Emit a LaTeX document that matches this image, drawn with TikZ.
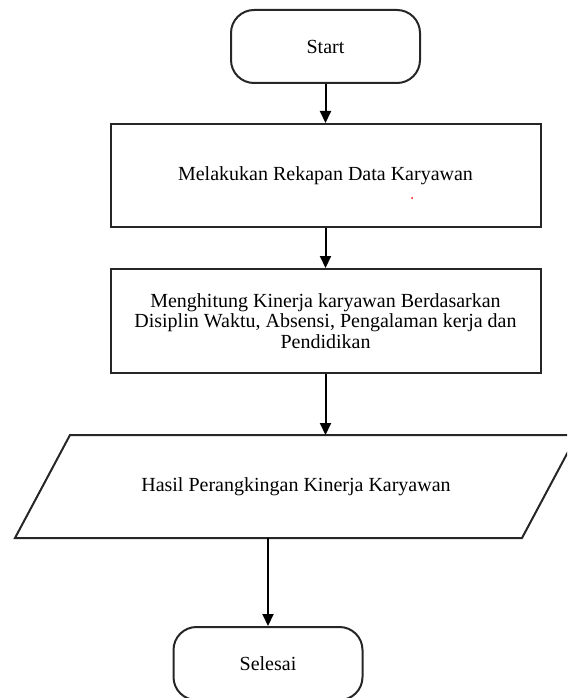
\documentclass[tikz,border=0pt]{standalone}
\usepackage{fontspec}
\setmainfont{Liberation Serif}
\usetikzlibrary{arrows.meta}
\begin{document}
\begin{tikzpicture}[x=1pt,y=-1pt,
  shapeline/.style={draw=black!85, line width=2pt},
  txt/.style={font=\fontsize{20}{20.5}\selectfont, align=center},
  terminal/.style={shapeline, txt, rounded corners=23pt, minimum width=189pt, minimum height=73pt, inner sep=0pt},
  procbox/.style={shapeline, txt, minimum width=430pt, inner sep=0pt},
  arr/.style={line width=2pt, -{Triangle[length=12pt,width=11pt]}}]
\clip (0,0) rectangle (567,698);
\node[terminal] (start) at (325.5,46.5) {Start};
\node[procbox, minimum height=103pt] (rekap) at (325.5,175.5) {Melakukan Rekapan Data Karyawan};
\node[procbox, minimum height=104pt] (hitung) at (325.5,321) {Menghitung Kinerja karyawan Berdasarkan\\Disiplin Waktu, Absensi, Pengalaman kerja dan\\Pendidikan};
\coordinate (pa) at (70,435);
\coordinate (pb) at (577,435);
\coordinate (pc) at (522,538);
\coordinate (pd) at (15,538);
\draw[shapeline, line join=miter] (pa) -- (pb) -- (pc) -- (pd) -- cycle;
\node[txt] (hasil) at (296,487) {Hasil Perangkingan Kinerja Karyawan};
\coordinate (hasilIn) at (325.5,435);
\coordinate (hasilOut) at (268,538);
\node[terminal] (selesai) at (268,663.5) {Selesai};
\fill[red] (412,198) circle (1pt);
\draw[arr] (start.south) -- (rekap.north);
\draw[arr] (rekap.south) -- (hitung.north);
\draw[arr] (hitung.south) -- (hasilIn);
\draw[arr] (hasilOut) -- (selesai.north);
\end{tikzpicture}
\end{document}
